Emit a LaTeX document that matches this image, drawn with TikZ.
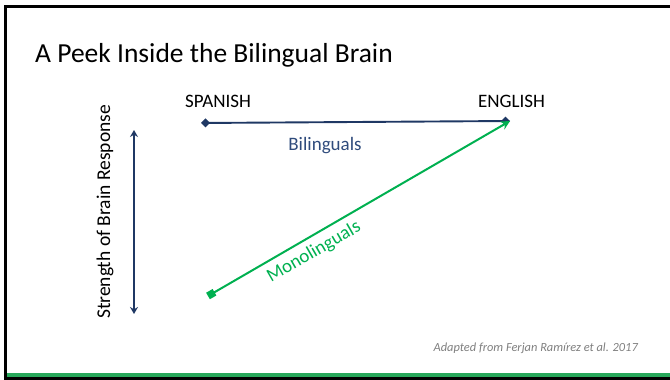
\documentclass[tikz,border=0pt]{standalone}
\usepackage{fontspec}
\setmainfont{Carlito}
\usetikzlibrary{arrows.meta}
\definecolor{navy}{HTML}{1F3864}
\definecolor{lblnavy}{HTML}{2F4B7C}
\definecolor{grn}{HTML}{00B050}
\definecolor{bar}{HTML}{27A85A}
\definecolor{note}{HTML}{7F7F7F}
\begin{document}
\begin{tikzpicture}[x=1pt,y=1pt,
  lang/.style={font=\fontsize{19}{22}\selectfont, inner sep=0pt},
  biline/.style={navy, line width=1.9pt, {Diamond[length=9pt,width=9pt]}-{Diamond[length=9pt,width=9pt]}},
  monoline/.style={grn, line width=2pt, {Square[length=7.5pt,width=7.5pt]}-{Stealth[length=9pt,width=9pt]}},
  scaleline/.style={navy, line width=1.7pt, {Stealth[length=7pt,width=8pt]}-{Stealth[length=7pt,width=8pt]}}]
\useasboundingbox (0,0) rectangle (670,380);
% frame
\fill[black] (4,372) rectangle (670,375);
\fill[black] (3.5,0) rectangle (6.5,375);
\fill[black] (4,0) rectangle (670,2.5);
\fill[bar] (6.5,2.5) rectangle (670,7);
% title
\node[anchor=base west, inner sep=0pt, font=\fontsize{27.5}{30}\selectfont] (title) at (35,317) {A Peek Inside the Bilingual Brain};
% language labels
\node[lang] (spanish) at (218,279) {SPANISH};
\node[lang] (english) at (511.5,279) {ENGLISH};
\coordinate (sp) at (201,257);
\coordinate (en) at (510,259);
\coordinate (mono) at (208,84);
\draw[biline] (sp) -- (en);
\node[lblnavy, font=\fontsize{19}{22}\selectfont, inner sep=0pt] (bil) at (325,234) {Bilinguals};
\draw[monoline] (mono) -- (en);
\node[grn, font=\fontsize{19}{22}\selectfont, inner sep=0pt, rotate=30] (mon) at (314,128) {Monolinguals};
% vertical scale
\coordinate (top) at (134,250);
\coordinate (bot) at (134,66);
\draw[scaleline] (bot) -- (top);
\node[rotate=90, font=\fontsize{19.5}{22}\selectfont, inner sep=0pt] (strength) at (105,168) {Strength of Brain Response};
% note
\node[note, anchor=east, inner sep=0pt, font=\fontsize{12.4}{14}\selectfont\itshape] (src) at (638,32) {Adapted from Ferjan Ramírez et al. 2017};
\end{tikzpicture}
\end{document}
